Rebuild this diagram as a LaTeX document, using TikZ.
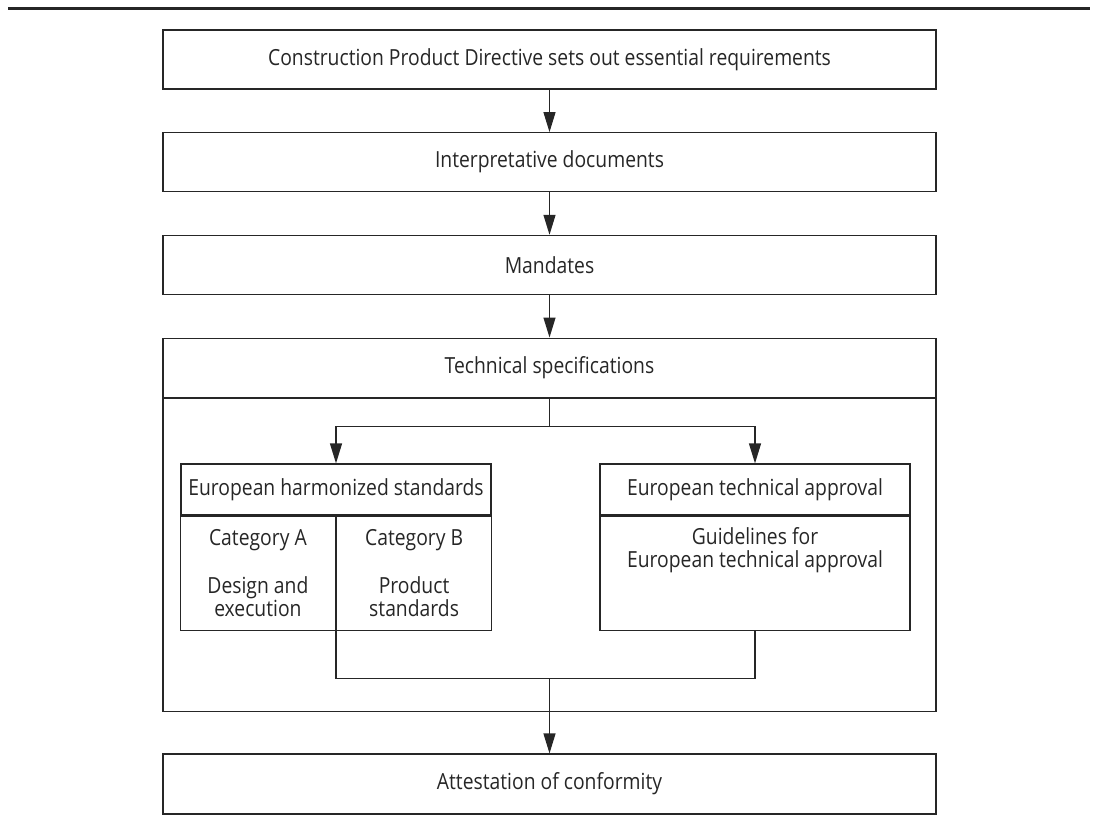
\documentclass[tikz,border=0pt]{standalone}
\usepackage{fontspec}
\setmainfont{Open Sans}[FakeStretch=0.87]
\usepackage{tikz}
\usetikzlibrary{arrows.meta,positioning,calc}
\colorlet{ink}{black!85}
\tikzset{
  >={Triangle[length=20pt, width=12pt]},
  box/.style={draw=ink, line width=1.2pt, text=ink, align=center, inner sep=0pt,
    minimum width=773pt, minimum height=59pt, font=\fontsize{22.2}{23}\selectfont},
  hdr/.style={box, minimum width=310pt, minimum height=51pt},
  cell/.style={box, minimum width=155pt, minimum height=114pt},
  txt/.style={text=ink, align=center, inner sep=0pt, font=\fontsize{22.2}{23}\selectfont},
  wire/.style={draw=ink, line width=1.2pt},
}
\begin{document}
\begin{tikzpicture}[x=1pt, y=1pt]
  \useasboundingbox (0,0) rectangle (1097,-824);
  % rule at the top of the figure
  \coordinate (rl) at (8,-8.5);
  \coordinate (rr) at (1090,-8.5);
  \draw[ink, line width=2.4pt] (rl) -- (rr);

  \node[box] (cpd) at (549.5,-59.5) {Construction Product Directive sets out essential requirements};
  \node[box, below=42.5pt of cpd] (idoc) {Interpretative documents};
  \node[box, below=42.5pt of idoc] (mand) {Mandates};
  \node[box, below=42.5pt of mand] (tech) {Technical specifications};
  \node[box, below=0pt of tech, minimum height=313.5pt] (specs) {};
  \node[box, below=41pt of specs, minimum height=60pt] (att) {Attestation of conformity};

  \node[hdr] (ehs) at (336,-489.5) {European harmonized standards};
  \node[cell, anchor=north east] (catA) at (ehs.south) {Category A\\[25pt]Design and\\execution};
  \node[cell, anchor=north west] (catB) at (ehs.south) {Category B\\[25pt]Product\\standards};

  \node[hdr] (eta) at (755,-489.5) {European technical approval};
  \node[hdr, below=0pt of eta, minimum height=114pt] (guide) {};
  \node[txt] (guidetxt) at ($(guide.north)+(0,-35)$) {Guidelines for\\European technical approval};

  \coordinate[below=28.5pt of tech.south] (split);
  \coordinate[below=48pt of catA.south east] (jl);
  \coordinate (join) at (jl -| att.north);

  \draw[wire, ->] (cpd) -- (idoc);
  \draw[wire, ->] (idoc) -- (mand);
  \draw[wire, ->] (mand) -- (tech);
  \draw[wire] (tech.south) -- (split);
  \draw[wire, ->] (split) -| (ehs.north);
  \draw[wire, ->] (split) -| (eta.north);
  \draw[wire] (catA.south east) -- (jl) -| (guide.south);
  \draw[wire, ->] (join) -- (att.north);
\end{tikzpicture}
\end{document}
